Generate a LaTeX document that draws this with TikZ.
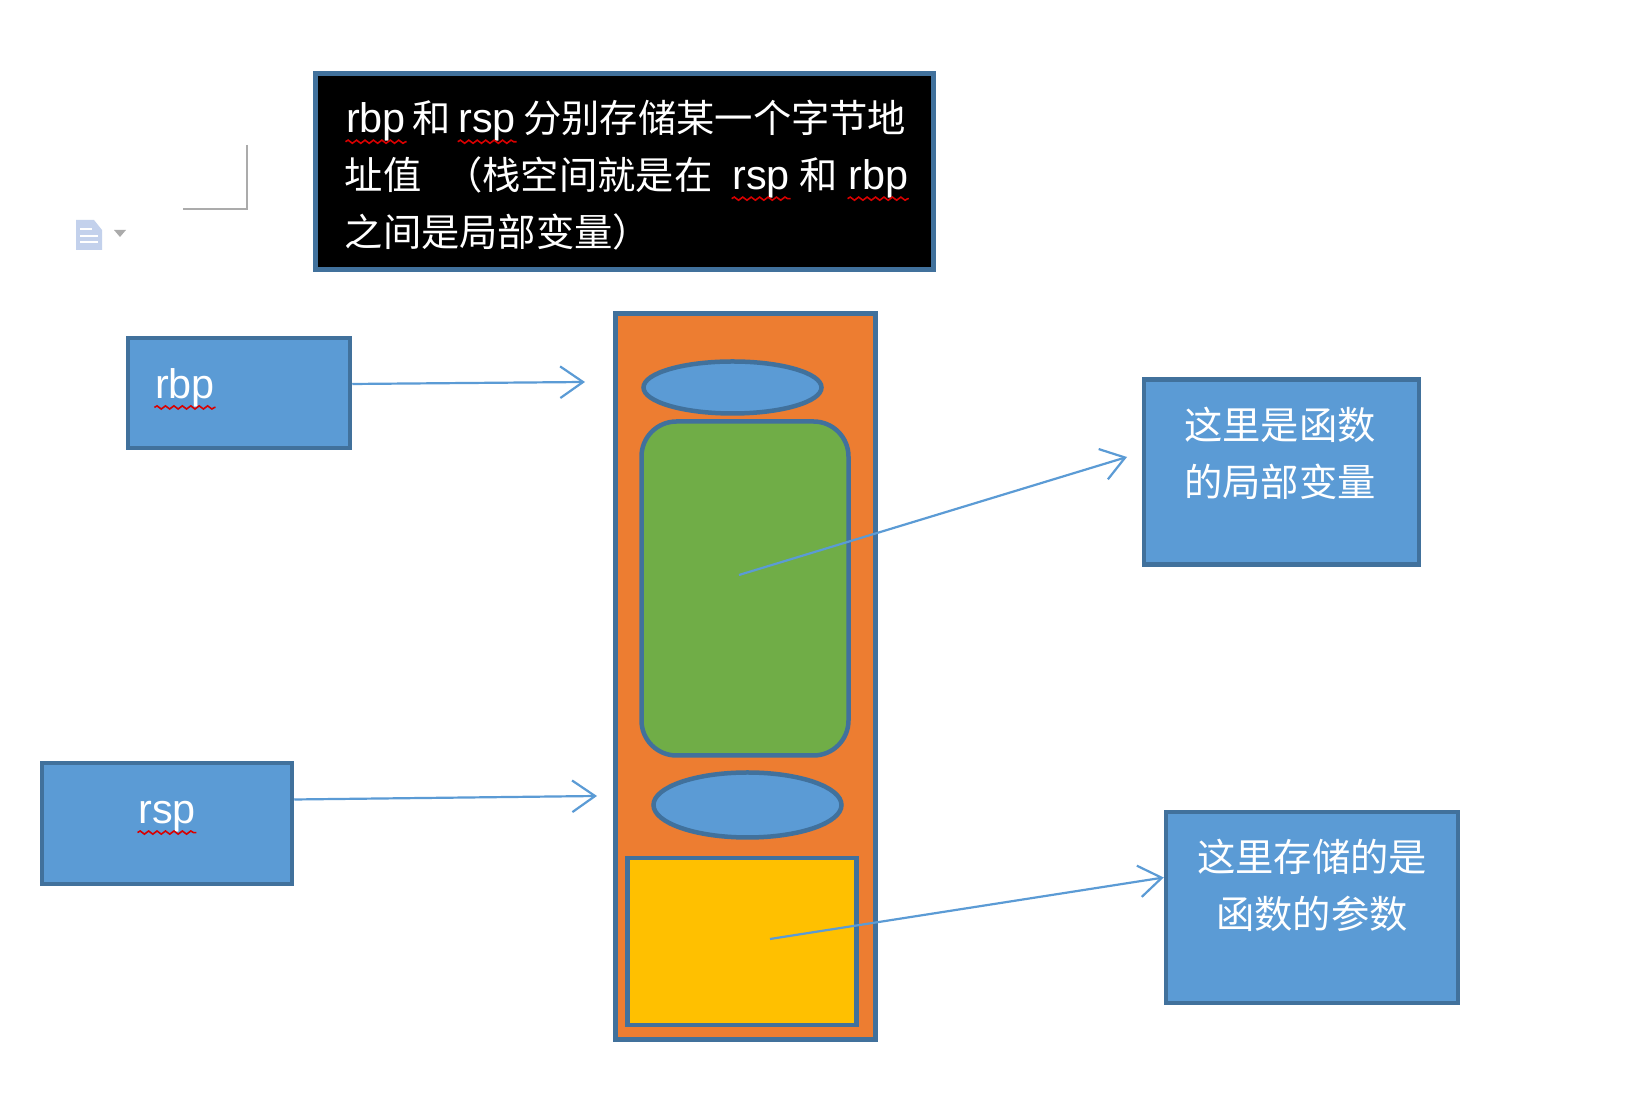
\documentclass[tikz,border=0pt]{standalone}
\usepackage{fontspec}
\setmainfont{Noto Sans CJK SC}
\setsansfont[Scale=1.08]{Liberation Sans}
\usetikzlibrary{arrows.meta,shapes.geometric,decorations.pathmorphing}
\definecolor{boxblue}{HTML}{5B9BD5}
\definecolor{edgeblue}{HTML}{41719C}
\definecolor{stackorange}{HTML}{ED7D31}
\definecolor{localgreen}{HTML}{70AD47}
\definecolor{paramyellow}{HTML}{FFC000}
\definecolor{markgray}{HTML}{ABABAB}
\definecolor{iconblue}{HTML}{C3D1EC}
\newcommand{\redwave}[1]{\tikz[baseline=(w.base)]{\node[inner sep=0pt] (w) {\sffamily #1};
  \draw[red!85!black, line width=0.45pt, decorate, decoration={snake, amplitude=0.45pt, segment length=2.4pt}] (w.south west) -- (w.south east);}}

\begin{document}
\begin{tikzpicture}[
    box/.style={draw=edgeblue, line width=0.045cm, fill=boxblue, minimum width=#1},
    box/.default=1cm,
    blob/.style={ellipse, draw=edgeblue, line width=0.045cm, fill=boxblue, inner sep=0pt},
    txt/.style={text=white, font=\fontsize{10.9pt}{16.2pt}\selectfont, align=center, inner sep=0pt},
    arr/.style={boxblue, line width=0.022cm, -{Straight Barb[length=6.5pt, width=9pt]}}
]
\useasboundingbox (0,0) rectangle (16.42,-11.04);
\fill[white] (0,0) rectangle (16.42,-11.04);

% page corner mark and paste icon
\draw[markgray, line width=0.02cm] (2.47,-1.45) -- (2.47,-2.09) -- (1.83,-2.09);
\fill[iconblue] (0.76,-2.20) -- (0.94,-2.20) -- (1.02,-2.30) -- (1.02,-2.50) -- (0.76,-2.50) -- cycle;
\draw[white, line width=0.015cm] (0.80,-2.29) -- (0.92,-2.29) (0.80,-2.36) -- (0.98,-2.36) (0.80,-2.42) -- (0.98,-2.42);
\fill[markgray] (1.14,-2.30) -- (1.26,-2.30) -- (1.20,-2.37) -- cycle;

\node[box, fill=black, minimum width=6.18cm, minimum height=1.96cm] (note) at (6.245,-1.715) {};
\node[txt, align=left, anchor=west] (notetext) at (3.44,-1.75) {\redwave{rbp}\hspace{-0.9pt} 和\hspace{-0.8pt} \redwave{rsp}\hspace{-0.8pt} 分别存储某一个字节地\\址值\hspace{0.6em}（栈空间就是在\hspace{2.8pt} \redwave{rsp} 和 \redwave{rbp}\\之间是局部变量）};

\node[box, minimum width=2.22cm, minimum height=1.10cm] (rbpbox) at (2.39,-3.93) {};
\node[txt] (rbptext) at (1.85,-3.89) {\redwave{rbp}};
\node[box, minimum width=2.50cm, minimum height=1.21cm] (rspbox) at (1.67,-8.235) {};
\node[txt] (rsptext) at (1.67,-8.18) {\redwave{rsp}};

\node[box, fill=stackorange, minimum width=2.60cm, minimum height=7.26cm] (stack) at (7.455,-6.765) {};
\node[blob, minimum width=1.78cm, minimum height=0.52cm] (rbpslot) at (7.325,-3.875) {};
\node[box, rounded corners=0.35cm, fill=localgreen, minimum width=2.07cm, minimum height=3.34cm] (locals) at (7.45,-5.885) {};
\node[blob, minimum width=1.88cm, minimum height=0.65cm] (rspslot) at (7.475,-8.05) {};
\node[box, fill=paramyellow, minimum width=2.29cm, minimum height=1.67cm] (params) at (7.42,-9.415) {};

\node[box, minimum width=2.75cm, minimum height=1.85cm] (localbox) at (12.815,-4.72) {};
\node[txt] (localtext) at (12.80,-4.53) {这里是函数\\的局部变量};
\node[box, minimum width=2.92cm, minimum height=1.91cm] (parambox) at (13.12,-9.075) {};
\node[txt] (paramtext) at (13.12,-8.85) {这里存储的是\\函数的参数};

\coordinate (rbptip) at (5.85,-3.82);
\coordinate (rsptip) at (5.97,-7.96);
\coordinate (localfrom) at (7.39,-5.75);
\coordinate (localtip) at (11.27,-4.57);
\coordinate (paramfrom) at (7.70,-9.39);

\draw[arr] ([yshift=0.09cm]rbpbox.east) -- (rbptip);
\draw[arr] ([yshift=0.24cm]rspbox.east) -- (rsptip);
\draw[arr] (localfrom) -- (localtip);
\draw[arr] (paramfrom) -- ([yshift=0.30cm]parambox.west);
\end{tikzpicture}
\end{document}
